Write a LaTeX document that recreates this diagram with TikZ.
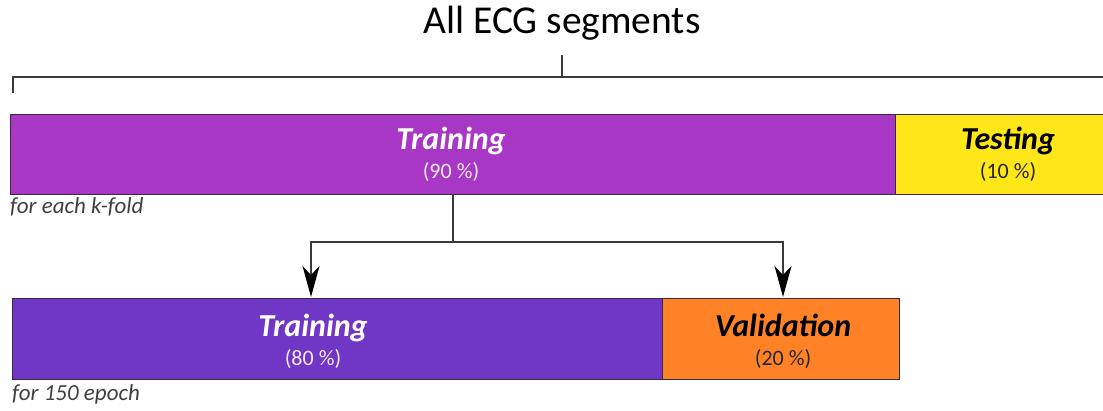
\documentclass[tikz,border=0pt]{standalone}
\usepackage{fontspec}
\setmainfont{Carlito}
\usetikzlibrary{arrows.meta}
\definecolor{purpA}{HTML}{A737C4}
\definecolor{yellowA}{HTML}{FFE619}
\definecolor{purpB}{HTML}{7036C6}
\definecolor{orangeB}{HTML}{FF8227}
\definecolor{barline}{HTML}{3A2A40}
\definecolor{linegray}{HTML}{3A3A3A}
\definecolor{notegray}{HTML}{404040}
\definecolor{lightpct}{HTML}{F2E8F6}
\begin{document}
\begin{tikzpicture}[x=1pt,y=-1pt,
  bar/.style={draw=barline, line width=1.2pt, inner sep=0pt, anchor=north west},
  big/.style={font=\fontsize{32}{36}\selectfont\bfseries\itshape, anchor=base, inner sep=0pt},
  pct/.style={font=\fontsize{22}{26}\selectfont, anchor=base, inner sep=0pt},
  note/.style={font=\fontsize{23}{27}\selectfont\itshape, text=notegray, anchor=base west, inner sep=0pt},
  conn/.style={draw=linegray, line width=2pt},
  tip/.style={-{Stealth[length=31pt,width=17pt,inset=9pt,color=black]}}]
\useasboundingbox (0,0) rectangle (1103,411);

% title and bracket
\node[font=\fontsize{39.5}{44}\selectfont, anchor=base, inner sep=0pt, text=black] (title) at (562,34) {All ECG segments};
\coordinate (tick) at (562,55);
\coordinate (brmid) at (562,77);
\coordinate (brleft) at (12.5,77);
\coordinate (brleftend) at (12.5,93);
\coordinate (brright) at (1112,77);
\draw[conn] (tick) -- (brmid);
\draw[conn] (brleftend) -- (brleft) -- (brright);

% top bar
\node[bar, fill=purpA, minimum width=885.5pt, minimum height=80pt] (trainA) at (9.5,114) {};
\node[bar, fill=yellowA, minimum width=226pt, minimum height=80pt] (testA) at (895,114) {};
\node[big, text=white] (trainAl) at (451,150) {Training};
\node[pct, text=lightpct] (trainAp) at (451,179) {(90 \%)};
\node[big, text=black] (testAl) at (1008,150) {Testing};
\node[pct, text=black!85] (testAp) at (1008,179) {(10 \%)};
\node[note] (noteA) at (10,214) {for each k-fold};

% bottom bar
\node[bar, fill=purpB, minimum width=650pt, minimum height=81pt] (trainB) at (12,298) {};
\node[bar, fill=orangeB, minimum width=237pt, minimum height=81pt] (valB) at (662,298) {};
\node[big, text=white] (trainBl) at (313,337) {Training};
\node[pct, text=lightpct] (trainBp) at (313,366) {(80 \%)};
\node[big, text=black] (valBl) at (783,337) {Validation};
\node[pct, text=black!85] (valBp) at (783,366) {(20 \%)};
\node[note] (noteB) at (12,401) {for 150 epoch};

% connectors
\coordinate (split) at (453,242);
\coordinate (inB) at (311,297);
\coordinate (inV) at (783,297);
\draw[conn] (trainA.south -| split) -- (split);
\draw[conn, tip] (split) -| (inB);
\draw[conn, tip] (split) -| (inV);
\end{tikzpicture}
\end{document}
